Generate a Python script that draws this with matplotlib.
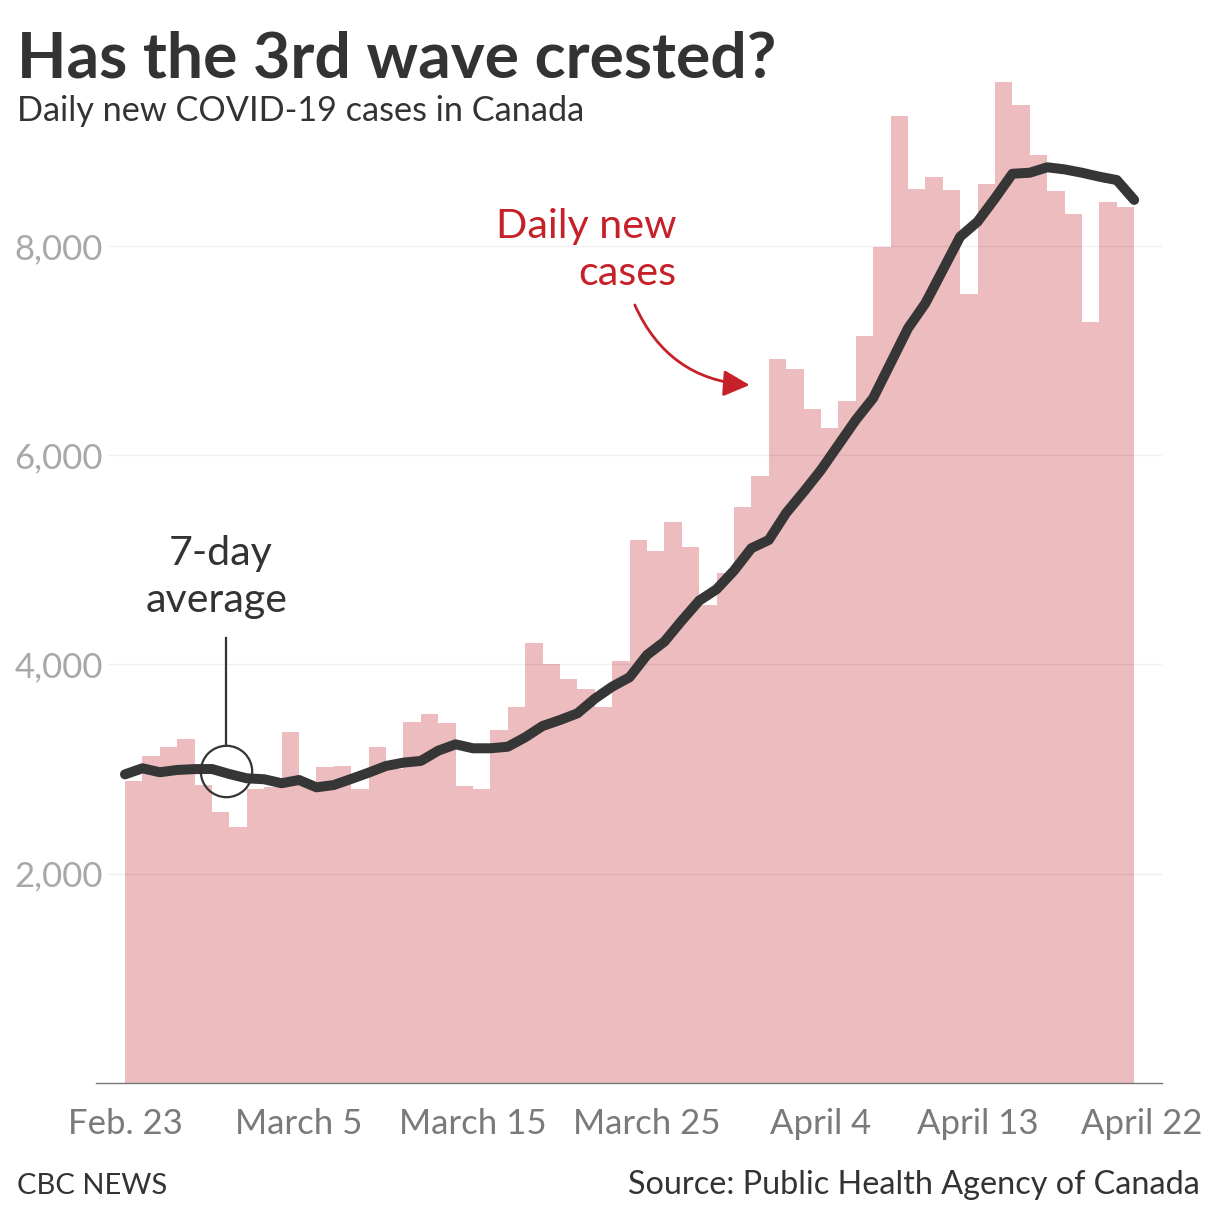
import matplotlib
matplotlib.use("Agg")
import matplotlib.pyplot as plt
from matplotlib.transforms import ScaledTranslation

plt.rcParams['font.family'] = ['Lato', 'DejaVu Sans']

# ---- data ----
daily_cases = [2889, 3122, 3208, 3285, 2845, 2587, 2450, 2807, 2826, 3355,
               2850, 3017, 3030, 2813, 3211, 3000, 3450, 3530, 3438, 2839,
               2813, 3374, 3594, 4205, 4005, 3858, 3766, 3597, 4033, 5193,
               5088, 5359, 5120, 4569, 4874, 5508, 5801, 6917, 6821, 6445,
               6263, 6515, 7142, 7993, 9242, 8544, 8656, 8538, 7541, 8595,
               9570, 9344, 8866, 8522, 8308, 7273, 8417, 8372]
avg_7day = [2950, 3008, 2970, 2992, 3000, 3001, 2953, 2912, 2903, 2865,
            2896, 2826, 2848, 2906, 2966, 3030, 3062, 3078, 3176, 3237,
            3199, 3199, 3214, 3304, 3412, 3469, 3533, 3673, 3788, 3878,
            4091, 4218, 4419, 4610, 4719, 4897, 5111, 5190, 5448, 5649,
            5859, 6098, 6337, 6546, 6879, 7213, 7452, 7770, 8089, 8232,
            8455, 8690, 8700, 8752, 8732, 8700, 8662, 8630, 8440]
tick_days = [0, 10, 20, 30, 40, 49, 58]
tick_labels = ["Feb. 23", "March 5", "March 15", "March 25", "April 4", "April 13", "April 22"]
y_ticks = [2000, 4000, 6000, 8000]
y_tick_labels = ["2,000", "4,000", "6,000", "8,000"]

W, H = 1212, 1206
fig = plt.figure(figsize=(W / 100, H / 100), dpi=100)
fig.patch.set_facecolor("white")

def fx(px):
    return px / W

def fy(py):
    return 1 - py / H

ax = fig.add_axes([fx(96), fy(1083), fx(1162) - fx(96), fy(68.1) - fy(1083)])
ax.set_xlim(-1.667, 59.6)
ax.set_ylim(0, 9700)

bar_x = list(range(len(daily_cases)))
ax.bar(bar_x, daily_cases, width=1.0, align='edge', color="#edbcbf", linewidth=0, zorder=1)

for yv in y_ticks:
    ax.axhline(yv, xmin=(108 - 96) / (1162 - 96), xmax=1, color="#000000", alpha=0.06, lw=1, zorder=2)

line_x = list(range(len(avg_7day)))
ax.plot(line_x, avg_7day, color="#363636", lw=7.2, solid_capstyle='round', solid_joinstyle='round', zorder=3)

for s in ["top", "right", "left"]:
    ax.spines[s].set_visible(False)
ax.spines["bottom"].set_color("#777777")
ax.spines["bottom"].set_linewidth(1)

ax.set_yticks(y_ticks)
ax.set_yticklabels(y_tick_labels)
ax.tick_params(axis='y', length=0, pad=-5, labelsize=25, labelcolor="#a8a8a8")
ax.set_xticks(tick_days)
ax.set_xticklabels(tick_labels)
ax.tick_params(axis='x', length=0, pad=18, labelsize=25, labelcolor="#7a7a7a")
last = ax.get_xticklabels()[-1]
last.set_transform(last.get_transform() + ScaledTranslation(8 / 100, 0, fig.dpi_scale_trans))

# annotations
red = "#c62128"
ax.text(31.67, 8077, "Daily new", color=red, fontsize=29.7, ha='right', va='baseline')
ax.text(31.67, 7627, "cases", color=red, fontsize=29.7, ha='right', va='baseline')
ax.annotate("", xy=(35.9, 6671), xytext=(29.3, 7436),
            arrowprops=dict(arrowstyle='-|>', connectionstyle='arc3,rad=0.3',
                            color=red, lw=2, mutation_scale=40, shrinkA=0, shrinkB=0))

ax.text(5.52, 4951, "7-day", color="#333333", fontsize=29.6, ha='center', va='baseline')
ax.text(5.29, 4502, "average", color="#333333", fontsize=29.6, ha='center', va='baseline')
ax.plot([5.8, 5.8], [3231, 4253], color="#333333", lw=1.6, zorder=4)
ax.plot([5.8], [2982], marker='o', ms=37, mfc='none', mec="#333333", mew=1.6, zorder=4)

# titles
fig.text(fx(17), fy(77), "Has the 3rd wave crested?", fontsize=46.4, fontweight='bold',
         color="#333333", ha='left', va='baseline')
fig.text(fx(17), fy(121), "Daily new COVID-19 cases in Canada", fontsize=24.7,
         color="#333333", ha='left', va='baseline')
fig.text(fx(17), fy(1194), "CBC NEWS", fontsize=21, color="#333333", ha='left', va='baseline')
fig.text(fx(1200), fy(1194), "Source: Public Health Agency of Canada", fontsize=23.3,
         color="#333333", ha='right', va='baseline')

fig.savefig("out.png", dpi=100, facecolor="white")
